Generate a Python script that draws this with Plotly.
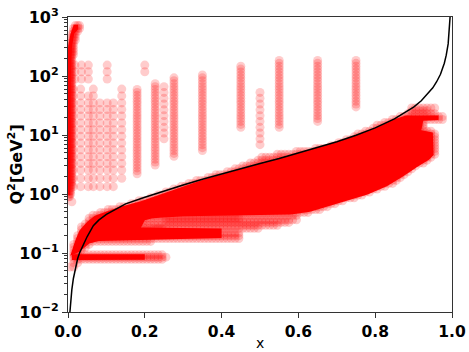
import plotly.graph_objects as go

# ---------------- data ----------------
# black kinematic boundary curve
CURVE_X = [0.005, 0.007, 0.010, 0.014, 0.018, 0.025, 0.030, 0.040, 0.050, 0.066, 0.080, 0.100,
           0.125, 0.150, 0.200, 0.250, 0.300, 0.350, 0.400, 0.450, 0.500, 0.550, 0.600, 0.650,
           0.700, 0.750, 0.800, 0.850, 0.880, 0.900, 0.920, 0.940, 0.950, 0.960, 0.970, 0.980,
           0.985, 0.990, 0.993, 0.995]
CURVE_Q = [0.010, 0.015, 0.024, 0.037, 0.050, 0.080, 0.100, 0.140, 0.190, 0.290, 0.360, 0.450,
           0.560, 0.680, 0.880, 1.13, 1.42, 1.78, 2.20, 2.70, 3.30, 4.00, 4.95, 6.10,
           7.70, 9.90, 13.2, 18.7, 24.2, 29.7, 38.0, 52.0, 63.0, 80.0, 107, 165,
           225, 350, 560, 1000]

# Q^2 levels used by the vertical point columns
FINE_Q = [0.9, 1.0, 1.12, 1.25, 1.4, 1.57, 1.76, 1.97, 2.2, 2.47, 2.77, 3.1, 3.47, 3.89, 4.35,
          4.87, 5.46, 6.1, 6.85, 7.67, 8.6, 9.6, 10.8, 12.1, 13.5, 15.1, 17.0, 19.0, 21.3, 23.8,
          26.7, 29.9, 33.5, 37.5, 42.0, 47.0, 52.7, 59.0, 66.0, 74.0, 83.0, 93.0, 104, 117, 131,
          146, 164, 184, 206, 230, 258, 289, 324, 363, 406, 455, 510, 571, 640, 716]
COARSE_Q = [1.33, 1.85, 2.55, 3.3, 4.3, 5.6, 7.3, 9.5, 12.3, 16, 21, 27, 35, 46, 60]

# x positions of the points along horizontal rows
X_SAMPLES = [0.005, 0.015, 0.025, 0.035, 0.045, 0.055, 0.065, 0.075, 0.085, 0.095,
             0.105, 0.115, 0.125, 0.135, 0.145, 0.155, 0.165, 0.175, 0.185, 0.195,
             0.205, 0.215, 0.225, 0.235, 0.245, 0.255, 0.265, 0.275, 0.285, 0.295,
             0.305, 0.315, 0.325, 0.335, 0.345, 0.355, 0.365, 0.375, 0.385, 0.395,
             0.405, 0.415, 0.425, 0.435, 0.445, 0.455, 0.465, 0.475, 0.485, 0.495,
             0.505, 0.515, 0.525, 0.535, 0.545, 0.555, 0.565, 0.575, 0.585, 0.595,
             0.605, 0.615, 0.625, 0.635, 0.645, 0.655, 0.665, 0.675, 0.685, 0.695,
             0.705, 0.715, 0.725, 0.735, 0.745, 0.755, 0.765, 0.775, 0.785, 0.795,
             0.805, 0.815, 0.825, 0.835, 0.845, 0.855, 0.865, 0.875, 0.885, 0.895,
             0.905, 0.915, 0.925, 0.935, 0.945, 0.955, 0.965, 0.975, 0.985, 0.995]

# dense band: horizontal rows (Q^2) with their x extent
ROW_Q = [0.058, 0.068, 0.078, 0.085, 0.093, 0.100, 0.112, 0.125, 0.140, 0.157, 0.176, 0.197,
         0.220, 0.247, 0.277, 0.310, 0.347, 0.389, 0.435, 0.487, 0.546, 0.610, 0.685, 0.767,
         0.860, 0.960, 1.08, 1.21, 1.35, 1.51, 1.70, 1.90, 2.13, 2.38, 2.67, 2.99, 3.35, 3.75,
         4.20, 4.70, 5.27, 5.90, 6.60, 7.40, 8.30, 9.30, 10.4, 11.6, 13.0, 14.6, 16.3, 18.3,
         20.5, 23.0, 25.7, 28.8]
ROW_XMIN = [0.004, 0.006, 0.010, 0.012, 0.015, 0.008, 0.010, 0.012, 0.014, 0.016, 0.019, 0.022,
            0.026, 0.030, 0.035, 0.041, 0.048, 0.055, 0.064, 0.080, 0.100, 0.128, 0.158, 0.185,
            0.208, 0.230, 0.252, 0.272, 0.292, 0.312, 0.335, 0.358, 0.383, 0.408, 0.430, 0.450,
            0.470, 0.488, 0.505, 0.540, 0.590, 0.640, 0.680, 0.700, 0.718, 0.738, 0.755, 0.770,
            0.788, 0.805, 0.825, 0.845, 0.862, 0.880, 0.888, 0.895]
ROW_XMAX = [0.015, 0.030, 0.250, 0.255, 0.250, 0.030, 0.035, 0.045, 0.060, 0.220, 0.445, 0.445,
            0.445, 0.250, 0.200, 0.200, 0.220, 0.450, 0.600, 0.630, 0.660, 0.680, 0.700, 0.720,
            0.745, 0.765, 0.790, 0.810, 0.830, 0.845, 0.860, 0.872, 0.882, 0.892, 0.902, 0.912,
            0.925, 0.938, 0.950, 0.958, 0.958, 0.958, 0.958, 0.958, 0.958, 0.958, 0.958, 0.945,
            0.930, 0.930, 0.930, 0.978, 0.978, 0.960, 0.940, 0.962]

# sparser rows between the two lower bands
LIGHT_Q = [0.262, 0.295, 0.330, 0.365]
LIGHT_XMIN = [0.20, 0.20, 0.22, 0.25]
LIGHT_XMAX = [0.50, 0.55, 0.58, 0.60]

# saturated core of the dense band (outline)
CORE_X = [0.006, 0.01, 0.02, 0.03, 0.05, 0.07, 0.10, 0.13, 0.19, 0.24, 0.30, 0.35, 0.40, 0.45,
          0.50, 0.55, 0.60, 0.65, 0.70, 0.75, 0.80, 0.85, 0.88, 0.965, 0.965, 0.925, 0.92, 0.95,
          0.952, 0.94, 0.91, 0.87, 0.83, 0.78, 0.73, 0.68, 0.63, 0.58, 0.44, 0.30, 0.22, 0.20,
          0.19, 0.40, 0.40, 0.20, 0.08, 0.055, 0.04, 0.03, 0.015]
CORE_Q = [0.09, 0.11, 0.17, 0.24, 0.34, 0.43, 0.51, 0.59, 0.75, 0.97, 1.33, 1.72, 2.15, 2.65,
          3.3, 4.0, 4.9, 6.0, 7.6, 9.8, 13.0, 18.5, 21.5, 21.5, 18.0, 17.5, 12.0, 11.0,
          4.6, 3.8, 2.9, 1.95, 1.35, 0.98, 0.78, 0.62, 0.50, 0.45, 0.43, 0.42, 0.39, 0.36,
          0.27, 0.26, 0.18, 0.17, 0.16, 0.145, 0.12, 0.105, 0.095]
BANDA_X = [0.010, 0.20, 0.20, 0.010]
BANDA_Q = [0.076, 0.077, 0.095, 0.095]
# saturated core of the strip along the left axis
LEFT_X = [0.0, 0.006, 0.007, 0.010, 0.016, 0.026, 0.026, 0.015, 0.006, 0.0]
LEFT_Q = [0.95, 0.95, 100, 300, 520, 620, 740, 740, 500, 300]

# vertical columns of points (fine Q^2 levels)
COL_X = [0.001, 0.004, 0.007, 0.010, 0.014, 0.019, 0.025, 0.030, 0.18, 0.227, 0.25, 0.276,
         0.35, 0.45, 0.50, 0.55, 0.65, 0.75]
COL_QMIN = [0.9, 0.9, 1.0, 1.4, 230, 400, 520, 640, 2.2, 3.0, 8.1, 4.0, 5.2, 13, 6.2, 13.5, 15.5, 27]
COL_QMAX = [200, 300, 400, 520, 640, 716, 716, 716, 60, 77, 77, 99, 113, 147, 54, 190, 198, 198]
COL_STRIDE = [1, 1, 1, 1, 1, 1, 1, 1, 1, 1, 2, 1, 1, 1, 2, 1, 1, 1]

# low-x grid of points (coarse Q^2 levels)
GRID_X = [0.014, 0.033, 0.053, 0.066, 0.083, 0.102, 0.118, 0.14]
GRID_QMIN = [1.33, 1.33, 1.33, 1.33, 1.33, 1.33, 1.33, 1.85]
GRID_QMAX = [60, 60, 46, 60, 35, 35, 35, 60]

# isolated points
HIGH_X = [0.018, 0.018, 0.018, 0.035, 0.035, 0.035, 0.053, 0.053, 0.053, 0.102, 0.102, 0.102, 0.2, 0.2, 0.01]
HIGH_Q = [89, 118, 153, 89, 118, 153, 89, 118, 153, 89, 118, 153, 118, 153, 0.74]

# ---------------- assemble points ----------------
px, py = [], []
for q, lo, hi in zip(ROW_Q, ROW_XMIN, ROW_XMAX):
    for x in X_SAMPLES:
        if lo <= x <= hi:
            px.append(x); py.append(q)
for q, lo, hi in zip(LIGHT_Q, LIGHT_XMIN, LIGHT_XMAX):
    for x in X_SAMPLES:
        if lo <= x <= hi:
            px.append(x); py.append(q)
for x, lo, hi, st in zip(COL_X, COL_QMIN, COL_QMAX, COL_STRIDE):
    for q in [v for v in FINE_Q if lo <= v <= hi][::st]:
        px.append(x); py.append(q)
for x, lo, hi in zip(GRID_X, GRID_QMIN, GRID_QMAX):
    for q in COARSE_Q:
        if lo <= q <= hi:
            px.append(x); py.append(q)
px += HIGH_X
py += HIGH_Q

fig = go.Figure()
for cx, cq in ((CORE_X, CORE_Q), (BANDA_X, BANDA_Q), (LEFT_X, LEFT_Q)):
    fig.add_trace(go.Scatter(x=cx, y=cq, mode="lines", fill="toself", fillcolor="#ff0000",
                             line=dict(width=0, color="#ff0000"), hoverinfo="skip"))
fig.add_trace(go.Scatter(x=px, y=py, mode="markers",
                         marker=dict(size=9, color="#ff0000", opacity=0.2, line=dict(width=0))))
fig.add_trace(go.Scatter(x=CURVE_X, y=CURVE_Q, mode="lines", line=dict(color="black", width=1.5)))

axis_common = dict(showline=True, linecolor="#333", linewidth=1, mirror=True, ticks="outside",
                   ticklen=5, tickwidth=1, tickcolor="#333", showgrid=False, zeroline=False,
                   automargin=False, ticklabeloverflow="allow")
fig.update_xaxes(range=[0, 1], tickvals=[0, 0.2, 0.4, 0.6, 0.8, 1.0],
                 ticktext=["0.0", "0.2", "0.4", "0.6", "0.8", "1.0"],
                 tickfont=dict(family="DejaVu Sans", size=15.5, color="black", weight="bold"),
                 **axis_common)
fig.update_yaxes(type="log", range=[-2, 3], tickvals=[0.01, 0.1, 1, 10, 100, 1000],
                 ticktext=["10<sup>−2</sup>", "10<sup>−1</sup>", "10<sup>0</sup>",
                           "10<sup>1</sup>", "10<sup>2</sup>", "10<sup>3</sup>"],
                 tickfont=dict(family="DejaVu Sans", size=16, color="black", weight="bold"),
                 minor=dict(ticks="outside", ticklen=3, tickcolor="#333",
                            tickvals=[m * 10 ** e for e in range(-2, 3) for m in range(2, 10)]),
                 **axis_common)
fig.update_layout(width=469, height=352, margin=dict(l=68, r=17, t=17, b=40, autoexpand=False),
                  plot_bgcolor="white", paper_bgcolor="white", showlegend=False,
                  annotations=[
                      dict(text="<b>Q<sup>2</sup>[GeV<sup>2</sup>]</b>", xref="paper", yref="paper",
                           x=-52 / 384, y=0.5, xanchor="center", yanchor="middle", textangle=-90,
                           showarrow=False, font=dict(family="DejaVu Sans", size=16, color="black")),
                      dict(text="x", xref="paper", yref="paper", x=0.5, y=-31 / 295,
                           xanchor="center", yanchor="middle", showarrow=False,
                           font=dict(family="DejaVu Sans", size=14, color="black")),
                  ])
# remove the browser's default 8px body margin so the figure sits at the window corner
fig.write_html("out.html", config={"displayModeBar": False},
               post_script="document.body.style.margin='0';")
